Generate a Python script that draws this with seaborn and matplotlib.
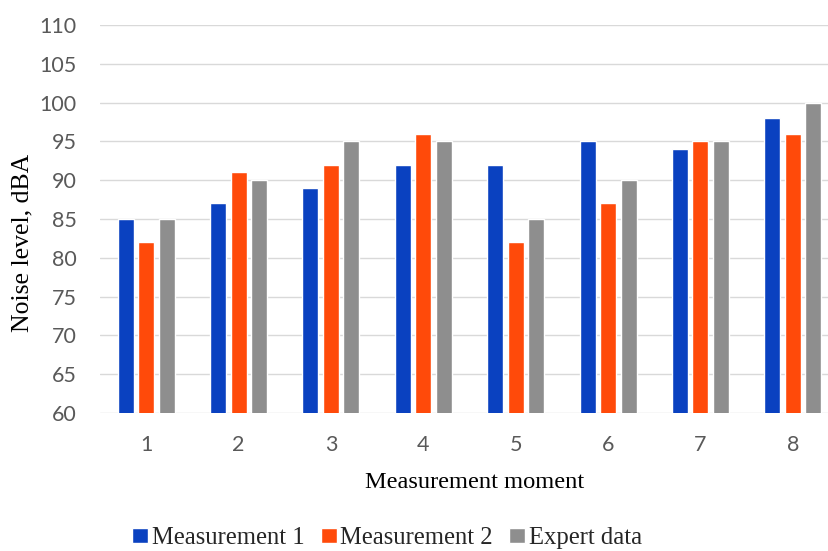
import matplotlib
matplotlib.use('Agg')
import matplotlib.pyplot as plt
import seaborn as sns
import pandas as pd

# data
moments = ['1', '2', '3', '4', '5', '6', '7', '8']
measurement_1 = [85, 87, 89, 92, 92, 95, 94, 98]
measurement_2 = [82, 91, 92, 96, 82, 87, 95, 96]
expert_data = [85, 90, 95, 95, 85, 90, 95, 100]
series_names = ['Measurement 1', 'Measurement 2', 'Expert data']
colors = ['#0a41c0', '#ff4a0a', '#8e8e8e']

df = pd.DataFrame({
    'moment': moments * 3,
    'value': measurement_1 + measurement_2 + expert_data,
    'series': [s for s in series_names for _ in moments],
})

sns.set_style('white')
plt.rcParams['font.family'] = ['Lato', 'DejaVu Sans']

fig = plt.figure(figsize=(8.29, 5.51), dpi=100)
# plot area runs a little past the right edge, as in the reference
ax = fig.add_axes([100 / 829, 1 - 413 / 551, 739 / 829, 388 / 551])

sns.barplot(data=df, x='moment', y='value', hue='series', palette=colors,
            width=0.666, gap=0.22, saturation=1, ax=ax, legend=True)

ax.set_ylim(60, 110)
ax.set_yticks(range(60, 111, 5))
ax.grid(axis='y', color='#d9d9d9', linewidth=1)
ax.set_axisbelow(True)
for s in ax.spines.values():
    s.set_visible(False)
ax.tick_params(axis='both', length=0, labelsize=15.5, colors='#595959')
ax.tick_params(axis='y', pad=17)
ax.tick_params(axis='x', pad=16)

serif = ['Liberation Serif', 'DejaVu Serif']
ax.set_ylabel('Noise level, dBA', family=serif, fontsize=18.5, color='black')
ax.yaxis.set_label_coords((22 - 100) / 739, (413 - 243) / 388)
ax.set_xlabel('Measurement moment', family=serif, fontsize=17.6, color='black')
ax.xaxis.set_label_coords((475 - 100) / 739, -(483 - 413) / 388)
ax.xaxis.label.set_va('center')
ax.yaxis.label.set_va('center')

handles, labels = ax.get_legend_handles_labels()
ax.get_legend().remove()
fig.legend(handles, labels, loc='center', bbox_to_anchor=(387 / 829, 1 - 538 / 551),
           ncol=3, frameon=False, prop={'family': serif, 'size': 17.7},
           handlelength=0.65, handleheight=0.6, handletextpad=0.15, columnspacing=0.65,
           borderpad=0)

fig.savefig('out.png', dpi=100)
